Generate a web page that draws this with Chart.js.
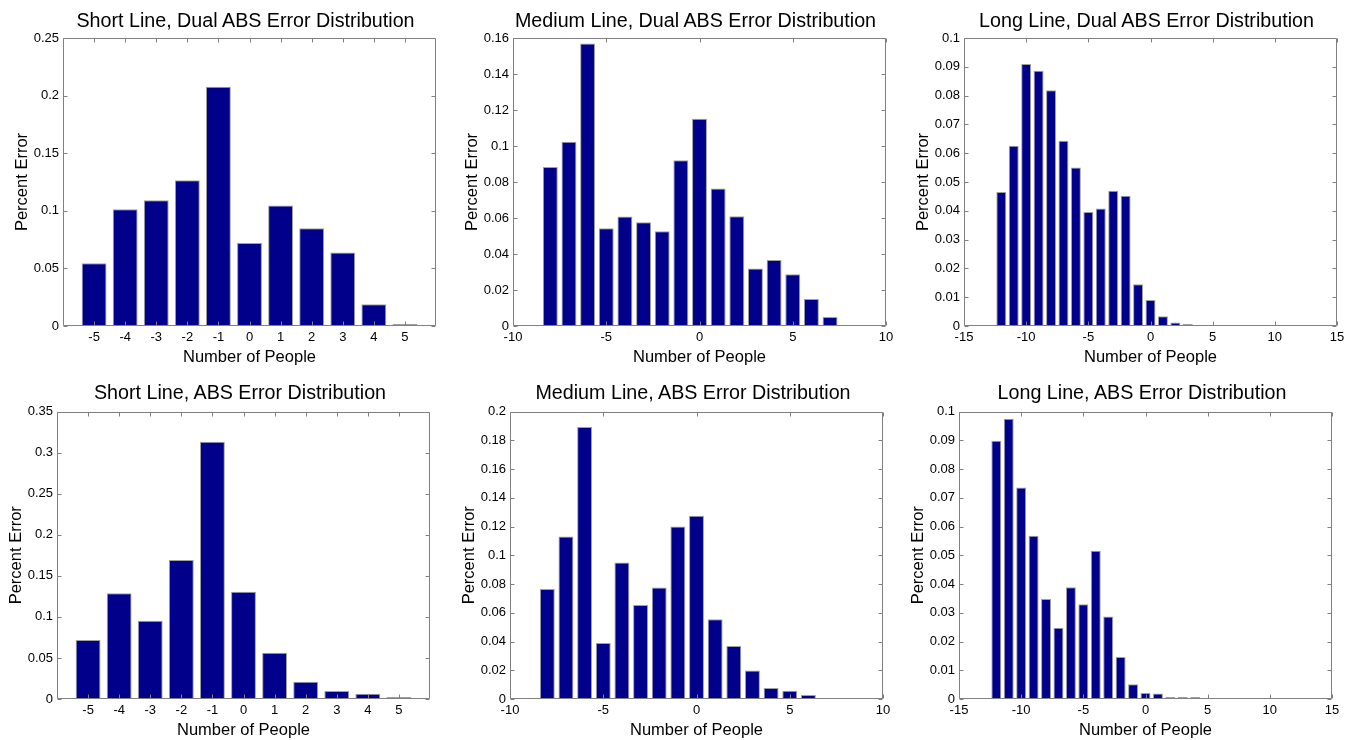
<!DOCTYPE html>
<html>
<head>
<meta charset="utf-8">
<script src="https://cdn.jsdelivr.net/npm/chart.js@4.4.1/dist/chart.umd.min.js"></script>
<style>
  html, body { margin: 0; padding: 0; background: #fff; overflow: hidden; }
  body { width: 1359px; height: 740px; position: relative; }
  canvas { position: absolute; }
  .title {
    position: absolute; width: 373px; text-align: center;
    font-family: "Liberation Sans", Arial, sans-serif; font-size: 19.7px;
    line-height: 22px; color: #000; white-space: nowrap;
  }
</style>
</head>
<body>
<script>
// values
const shortDualX = [-5, -4, -3, -2, -1, 0, 1, 2, 3, 4, 5];
const shortDualY = [0.0545, 0.1014, 0.1092, 0.1266, 0.2077, 0.0721, 0.1046, 0.0849, 0.0637, 0.0188, 0.0006];

const mediumDualX = [-8, -7, -6, -5, -4, -3, -2, -1, 0, 1, 2, 3, 4, 5, 6, 7];
const mediumDualY = [0.0883, 0.1023, 0.1569, 0.0543, 0.0608, 0.0577, 0.0527, 0.0921, 0.1151, 0.0764, 0.0610, 0.0319, 0.0367, 0.0287, 0.0150, 0.0050];

const longDualX = [-12, -11, -10, -9, -8, -7, -6, -5, -4, -3, -2, -1, 0, 1, 2, 3];
const longDualY = [0.0465, 0.0626, 0.0910, 0.0886, 0.0819, 0.0643, 0.0550, 0.0396, 0.0408, 0.0470, 0.0452, 0.0145, 0.0090, 0.0034, 0.0012, 0.0005];

const shortAbsX = [-5, -4, -3, -2, -1, 0, 1, 2, 3, 4, 5];
const shortAbsY = [0.0718, 0.1286, 0.0953, 0.1691, 0.3131, 0.1306, 0.0564, 0.0211, 0.0097, 0.0065, 0.0012];

const mediumAbsX = [-8, -7, -6, -5, -4, -3, -2, -1, 0, 1, 2, 3, 4, 5, 6];
const mediumAbsY = [0.0765, 0.1131, 0.1893, 0.0389, 0.0950, 0.0654, 0.0776, 0.1200, 0.1275, 0.0554, 0.0368, 0.0199, 0.0076, 0.0058, 0.0028];

const longAbsX = [-12, -11, -10, -9, -8, -7, -6, -5, -4, -3, -2, -1, 0, 1, 2, 3, 4];
const longAbsY = [0.0898, 0.0975, 0.0736, 0.0568, 0.0348, 0.0248, 0.0389, 0.0330, 0.0516, 0.0287, 0.0146, 0.0051, 0.0021, 0.0019, 0.0007, 0.0002, 0.0003];

const shortXTicks = [-5, -4, -3, -2, -1, 0, 1, 2, 3, 4, 5];
const mediumXTicks = [-10, -5, 0, 5, 10];
const longXTicks = [-15, -10, -5, 0, 5, 10, 15];

const FONT = '"Liberation Sans", Arial, sans-serif';
const AXIS_GREY = "#808080";

// MATLAB-style box with inward tick marks on all four sides
const boxPlugin = {
  id: "matlabBox",
  afterDatasetsDraw(chart) {
    const { ctx, chartArea: a, scales: { x, y } } = chart;
    const L = Math.round(a.left) + 0.5, R = Math.round(a.right) - 0.5;
    const T = Math.round(a.top) + 0.5, B = Math.round(a.bottom) - 0.5;
    ctx.save();
    ctx.strokeStyle = AXIS_GREY;
    ctx.lineWidth = 1;
    ctx.beginPath();
    x.ticks.forEach(t => {
      const px = Math.round(x.getPixelForValue(t.value)) + 0.5;
      ctx.moveTo(px, B); ctx.lineTo(px, B - 4);
      ctx.moveTo(px, T); ctx.lineTo(px, T + 4);
    });
    y.ticks.forEach(t => {
      const py = Math.round(y.getPixelForValue(t.value)) + 0.5;
      ctx.moveTo(L, py); ctx.lineTo(L + 4, py);
      ctx.moveTo(R, py); ctx.lineTo(R - 4, py);
    });
    ctx.rect(L, T, R - L, B - T);
    ctx.stroke();
    ctx.restore();
  }
};

function makePanel(p) {
  const canvas = document.createElement("canvas");
  canvas.width = 452;
  canvas.height = p.height;
  canvas.style.left = p.left + "px";
  canvas.style.top = p.top + "px";
  canvas.style.width = "452px";
  canvas.style.height = p.height + "px";
  document.body.appendChild(canvas);

  const title = document.createElement("div");
  title.className = "title";
  title.textContent = p.title;
  title.style.left = (p.left + 63 + p.titleShift) + "px";
  title.style.top = p.titleTop + "px";
  document.body.appendChild(title);

  new Chart(canvas, {
    type: "bar",
    data: {
      datasets: [{
        data: p.xs.map((x, i) => ({ x: x, y: p.ys[i] })),
        backgroundColor: "#00008a",
        borderColor: "#a0a0a0",
        borderWidth: 1,
        minBarLength: 2,
        barPercentage: 0.8,
        categoryPercentage: 1.0
      }]
    },
    plugins: [boxPlugin],
    options: {
      responsive: false,
      animation: false,
      devicePixelRatio: 1,
      layout: { padding: { top: p.padTop, left: 0, right: 16, bottom: 0 } },
      plugins: { legend: { display: false }, tooltip: { enabled: false } },
      scales: {
        x: {
          type: "linear",
          offset: false,
          min: p.xMin,
          max: p.xMax,
          grid: { display: false, drawTicks: false },
          border: { display: false },
          afterBuildTicks: axis => { axis.ticks = p.xTicks.map(v => ({ value: v })); },
          afterFit: scale => { scale.height = 44; },
          ticks: {
            autoSkip: false, maxRotation: 0, padding: 4, color: "#000",
            font: { family: FONT, size: 13 },
            callback: v => String(v)
          },
          title: {
            display: true, text: "Number of People", color: "#000",
            font: { family: FONT, size: 16.5 }, padding: { top: 0, bottom: 3 }
          }
        },
        y: {
          min: 0,
          max: p.yMax,
          grid: { display: false, drawTicks: false },
          border: { display: false },
          afterFit: scale => { scale.width = 63; },
          ticks: {
            stepSize: p.yStep, padding: 4, color: "#000",
            font: { family: FONT, size: 13 },
            callback: v => String(+v.toFixed(4))
          },
          title: {
            display: true, text: "Percent Error", color: "#000",
            font: { family: FONT, size: 16.5 }, padding: { top: 12.5, bottom: 0 }
          }
        }
      }
    }
  });
}

const topRow = { top: 0, height: 370, padTop: 38, titleTop: 9, titleShift: -4 };
const bottomRow = { top: 370, height: 373, padTop: 41.5, titleTop: 381, titleShift: -3.5 };

makePanel(Object.assign({}, topRow, {
  left: 0, title: "Short Line, Dual ABS Error Distribution",
  xs: shortDualX, ys: shortDualY, xTicks: shortXTicks, xMin: -6, xMax: 6, yMax: 0.25, yStep: 0.05
}));
makePanel(Object.assign({}, topRow, {
  left: 450, title: "Medium Line, Dual ABS Error Distribution",
  xs: mediumDualX, ys: mediumDualY, xTicks: mediumXTicks, xMin: -10, xMax: 10, yMax: 0.16, yStep: 0.02
}));
makePanel(Object.assign({}, topRow, {
  left: 901, title: "Long Line, Dual ABS Error Distribution",
  xs: longDualX, ys: longDualY, xTicks: longXTicks, xMin: -15, xMax: 15, yMax: 0.1, yStep: 0.01
}));
makePanel(Object.assign({}, bottomRow, {
  left: -6, title: "Short Line, ABS Error Distribution",
  xs: shortAbsX, ys: shortAbsY, xTicks: shortXTicks, xMin: -6, xMax: 6, yMax: 0.35, yStep: 0.05
}));
makePanel(Object.assign({}, bottomRow, {
  left: 447, title: "Medium Line, ABS Error Distribution",
  xs: mediumAbsX, ys: mediumAbsY, xTicks: mediumXTicks, xMin: -10, xMax: 10, yMax: 0.2, yStep: 0.02
}));
makePanel(Object.assign({}, bottomRow, {
  left: 896, title: "Long Line, ABS Error Distribution",
  xs: longAbsX, ys: longAbsY, xTicks: longXTicks, xMin: -15, xMax: 15, yMax: 0.1, yStep: 0.01
}));
</script>
</body>
</html>
